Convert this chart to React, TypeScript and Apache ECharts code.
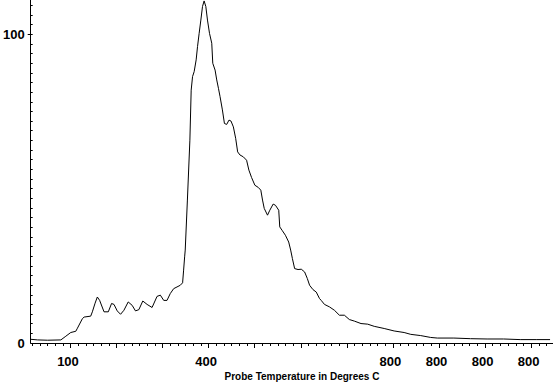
import React, { useEffect, useRef } from "react";
import * as echarts from "echarts";

// Probe temperature (°C) and signal readings
const temps = [
  13.6, 28.7, 50.3, 79.1, 89.9, 100.6, 111.5, 115.1, 125.9, 129.6, 143.9, 147.5, 153.4, 158.3, 163.3,
  172.8, 182.1, 189.2, 194.4, 201.5, 208.7, 216.0, 225.3, 233.9, 241.1, 248.4, 257.0, 266.3, 277.1,
  287.9, 295.1, 302.4, 309.5, 316.6, 324.0, 338.3, 343.4, 345.6, 347.8, 349.1, 353.8, 359.2, 362.0,
  365.0, 368.5, 372.8, 375.8, 379.3, 383.0, 386.6, 390.1, 393.8, 397.4, 401.8, 406.7, 408.9, 413.9,
  417.5, 421.2, 424.7, 429.8, 434.2, 439.1, 444.1, 448.4, 453.6, 458.6, 462.9, 467.9, 475.2, 482.3,
  487.3, 493.1, 500.3, 507.6, 513.2, 516.9, 520.6, 527.7, 532.7, 540.0, 545.0, 552.1, 554.3, 559.4,
  566.6, 573.7, 578.0, 581.7, 586.6, 594.0, 601.1, 608.3, 614.1, 619.1, 626.4, 633.5, 640.6, 644.3,
  651.4, 662.2, 673.0, 683.8, 694.6, 705.4, 716.2, 730.7, 745.2, 759.4, 781.0, 802.6, 824.3, 838.7,
  860.3, 881.9, 896.4, 932.3, 968.3, 1004.4, 1040.4, 1076.3, 1112.4, 1141.1,
];
const signal = [
  1.2, 1.0, 0.9, 1.0, 2.2, 3.4, 3.8, 4.8, 7.9, 8.4, 8.7, 10.1, 12.9, 14.9, 13.8,
  10.1, 10.1, 12.8, 12.5, 10.4, 9.3, 10.6, 13.3, 12.2, 10.4, 10.8, 13.6, 12.5, 11.5,
  15.1, 15.5, 13.8, 13.8, 16.0, 17.6, 18.7, 19.5, 23.6, 27.9, 30.1, 46.3, 65.7, 81.9,
  86.3, 87.9, 91.7, 96.0, 100.3, 104.6, 109.0, 110.8, 109.0, 104.6, 100.3, 97.1, 90.6, 88.4,
  85.2, 82.5, 79.8, 75.5, 71.1, 70.8, 72.2, 71.9, 70.0, 66.3, 61.9, 60.9, 60.3, 59.2,
  56.0, 53.6, 51.1, 50.4, 49.5, 46.3, 43.6, 41.4, 43.0, 45.0, 44.6, 43.0, 37.6, 36.5,
  34.9, 32.7, 30.1, 27.4, 24.1, 23.8, 23.9, 23.0, 20.9, 18.7, 17.3, 16.5, 14.4, 13.8,
  12.5, 11.7, 10.6, 9.0, 9.0, 7.6, 7.1, 6.3, 6.1, 5.4, 4.7, 3.9, 3.4, 2.8,
  2.4, 1.8, 1.6, 1.6, 1.4, 1.3, 1.3, 1.1, 1.1, 1.1,
];

// Axis ticks and labels as printed in the reference
const xMajorTicks = [100, 200, 300, 400, 500, 600, 700, 800, 900, 1000, 1100];
const xLabelValues = [100, 400, 800, 900, 1000, 1100];
const xLabelTexts = ["100", "400", "800", "800", "800", "800"];
const yLabelValues = [0, 100];
const yLabelTexts = ["0", "100"];
const xTitle = "Probe Temperature in Degrees C";

const X_MIN = 13.6;
const X_MAX = 1147.5;
const Y_MAX = 111.1;

function minorValues(from: number, to: number, step: number, skipEvery: number) {
  const out: number[] = [];
  for (let k = Math.ceil(from / step); k * step <= to; k++) {
    if (k % skipEvery !== 0) out.push(+(k * step).toFixed(3));
  }
  return out;
}

const FONT = "'Liberation Sans', Arial, Helvetica, sans-serif";

export default function App() {
  const ref = useRef<HTMLDivElement>(null);
  useEffect(() => {
    if (!ref.current) return;
    const chart = echarts.init(ref.current, null, { renderer: "svg" });
    const data = temps.map((t, i) => [t, signal[i]]);
    const xMinor = minorValues(X_MIN, X_MAX, 100 / 6, 6);
    const yMinor = minorValues(0, Y_MAX, 100 / 32, 1000);
    chart.setOption({
      animation: false,
      backgroundColor: "#ffffff",
      grid: { left: 28, right: 0, top: 0, bottom: 43, containLabel: false },
      xAxis: [
        {
          type: "value",
          min: X_MIN,
          max: X_MAX,
          position: "bottom",
          axisLine: { show: true, onZero: false, lineStyle: { color: "#000", width: 1 } },
          axisTick: { show: true, customValues: xMajorTicks, length: 5, lineStyle: { color: "#000", width: 1 } },
          axisLabel: {
            show: true,
            customValues: xLabelValues,
            formatter: (v: number) => {
              const i = xLabelValues.indexOf(Math.round(v));
              return i >= 0 ? xLabelTexts[i] : "";
            },
            margin: 12,
            padding: [0, 5, 0, 0],
            color: "#000",
            fontSize: 13,
            fontWeight: "bold",
            fontFamily: FONT,
          },
          splitLine: { show: false },
        },
        {
          type: "value",
          min: X_MIN,
          max: X_MAX,
          position: "bottom",
          axisLine: { show: false, onZero: false },
          axisTick: { show: true, customValues: xMinor, length: 3, lineStyle: { color: "#000", width: 1 } },
          axisLabel: { show: false },
          splitLine: { show: false },
        },
      ],
      yAxis: [
        {
          type: "value",
          min: 0,
          max: Y_MAX,
          position: "left",
          axisLine: { show: true, onZero: false, lineStyle: { color: "#000", width: 1 } },
          axisTick: { show: true, customValues: [100], length: 3, lineStyle: { color: "#000", width: 1 } },
          axisLabel: {
            show: true,
            customValues: yLabelValues,
            formatter: (v: number) => {
              const i = yLabelValues.indexOf(Math.round(v));
              return i >= 0 ? yLabelTexts[i] : "";
            },
            margin: 6,
            color: "#000",
            fontSize: 13,
            fontWeight: "bold",
            fontFamily: FONT,
          },
          splitLine: { show: false },
        },
        {
          type: "value",
          min: 0,
          max: Y_MAX,
          position: "left",
          axisLine: { show: false, onZero: false },
          axisTick: { show: true, inside: true, customValues: yMinor, length: 2, lineStyle: { color: "#000", width: 1 } },
          axisLabel: { show: false },
          splitLine: { show: false },
        },
      ],
      graphic: [
        {
          type: "text",
          x: 302,
          y: 376,
          style: {
            text: xTitle,
            fill: "#000",
            font: `bold 10px ${FONT}`,
            textAlign: "center",
            textVerticalAlign: "middle",
          },
        },
      ],
      series: [
        {
          type: "line",
          xAxisIndex: 0,
          yAxisIndex: 0,
          data,
          showSymbol: false,
          symbol: "none",
          lineStyle: { color: "#000", width: 1 },
        },
      ],
    });
    return () => chart.dispose();
  }, []);
  return (
    <div
      ref={ref}
      style={{ position: "fixed", left: 0, top: 0, width: 553, height: 386, background: "#fff" }}
    />
  );
}
